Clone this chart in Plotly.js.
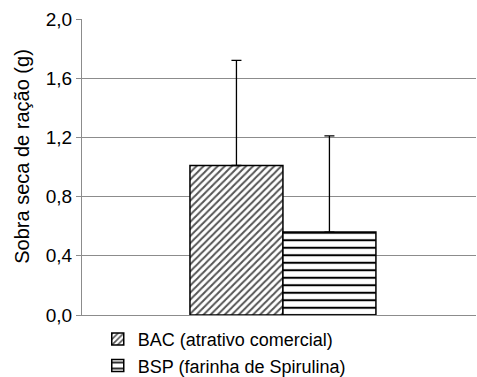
<!DOCTYPE html>
<html>
<head>
<meta charset="utf-8">
<script src="https://cdn.plot.ly/plotly-3.0.1.min.js"></script>
<style>html,body{margin:0;padding:0;background:#fff}#chart{width:477px;height:377px}</style>
</head>
<body>
<div id="chart"></div>
<script>
const seriesNames = ['BAC (atrativo comercial)', 'BSP (farinha de Spirulina)'];
const means = [1.01, 0.56];
const sds = [0.71, 0.65];
const yTicks = [0, 0.4, 0.8, 1.2, 1.6, 2.0];
const yTitle = 'Sobra seca de ração (g)';

const patterns = [
  {shape: '/', fgcolor: '#555555', bgcolor: '#ffffff', size: 5, solidity: 0.4},
  {shape: '-', fgcolor: '#000000', bgcolor: '#ffffff', size: 7.5, solidity: 0.27}
];

const traces = seriesNames.map((name, i) => ({
  type: 'bar',
  name: name,
  x: [0],
  y: [means[i]],
  marker: {color: '#ffffff', pattern: patterns[i], line: {color: '#000000', width: 1.5}},
  error_y: {type: 'data', array: [sds[i]], symmetric: false, arrayminus: [0], color: '#000000', thickness: 1.3, width: 5},
  hoverinfo: 'none'
}));

const layout = {
  width: 477, height: 377,
  margin: {l: 82, r: 1, t: 19, b: 62, autoexpand: false},
  paper_bgcolor: '#ffffff', plot_bgcolor: '#ffffff',
  font: {family: 'Liberation Sans, Arial, sans-serif', size: 18, color: '#000000'},
  separators: ',.',
  barmode: 'group',
  bargap: 0.528,
  showlegend: true,
  legend: {orientation: 'v', x: 0.04, xanchor: 'left', y: -0.02, yanchor: 'top', font: {size: 18}, tracegroupgap: 0, itemwidth: 30, bgcolor: 'rgba(0,0,0,0)'},
  xaxis: {range: [-0.51, 0.49], showticklabels: false, ticks: '', showgrid: false, zeroline: false, showline: true, linecolor: '#8c8c8c', linewidth: 1, fixedrange: true},
  yaxis: {range: [0, 2], tickvals: yTicks, tickformat: '.1f', ticks: 'outside', ticklen: 5, tickcolor: '#8c8c8c', showgrid: true, gridcolor: '#8c8c8c', gridwidth: 1, zeroline: false, showline: true, linecolor: '#8c8c8c', linewidth: 1, tickfont: {size: 19}, fixedrange: true},
  annotations: [{
    text: yTitle, xref: 'paper', yref: 'paper', x: -0.152, y: 0.535, xanchor: 'center', yanchor: 'middle',
    textangle: -90, showarrow: false, font: {size: 20}
  }]
};

Plotly.newPlot('chart', traces, layout, {staticPlot: true, displayModeBar: false});
</script>
</body>
</html>
